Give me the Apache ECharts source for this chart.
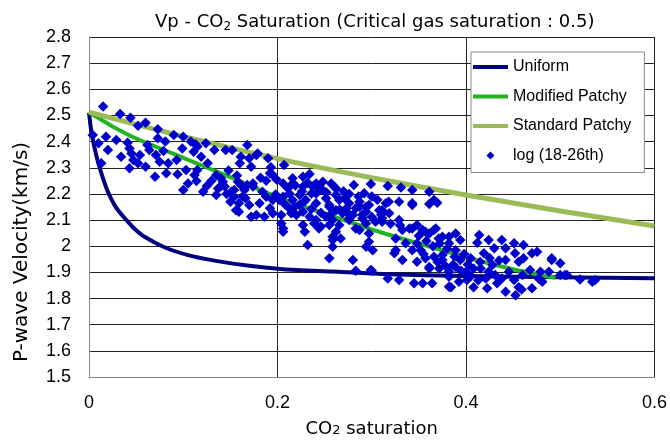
<!DOCTYPE html>
<html><head><meta charset="utf-8">
<script src="https://cdn.jsdelivr.net/npm/echarts@6/dist/echarts.min.js"></script>
<style>html,body{margin:0;padding:0;background:#fff}#c{width:670px;height:443px}</style>
</head><body><div id="c"></div>
<script>
// Uniform saturation curve
const uniformS = [0, 0.0025, 0.006, 0.0095, 0.0148, 0.020, 0.027, 0.0325, 0.038, 0.048, 0.059, 0.080, 0.105, 0.133, 0.170, 0.206, 0.2585, 0.311, 0.345, 0.4, 0.5, 0.6];
const uniformV = [2.510, 2.438, 2.374, 2.323, 2.260, 2.208, 2.158, 2.130, 2.107, 2.068, 2.036, 1.996, 1.966, 1.945, 1.925, 1.912, 1.903, 1.894, 1.890, 1.886, 1.881, 1.878];
// Modified patchy curve
const modS = [0, 0.025, 0.05, 0.1, 0.15, 0.2, 0.25, 0.3, 0.35, 0.4, 0.45, 0.495];
const modV = [2.512, 2.458, 2.412, 2.338, 2.264, 2.188, 2.125, 2.064, 2.010, 1.958, 1.912, 1.879];
// Standard patchy curve
const stdS = [0, 0.1, 0.2, 0.3, 0.4, 0.5, 0.6];
const stdV = [2.513, 2.42, 2.335, 2.262, 2.196, 2.135, 2.077];
// Well log points (18-26th)
const logS = [0.015,0.033,0.044,0.052,0.060,0.073,0.004,0.010,0.018,0.029,0.020,0.013,0.034,0.041,0.043,0.045,0.054,0.047,0.052,0.043,0.060,0.062,0.064,0.071,0.073,0.081,0.079,0.075,0.084,0.082,0.070,0.090,0.100,0.099,0.093,0.094,0.103,0.108,0.113,0.115,0.111,0.119,0.124,0.126,0.115,0.112,0.114,0.105,0.100,0.121,0.133,0.135,0.142,0.137,0.135,0.145,0.152,0.144,0.151,0.154,0.156,0.159,0.165,0.161,0.168,0.161,0.160,0.170,0.172,0.166,0.140,0.158,0.154,0.168,0.170,0.159,0.172,
0.179,0.190,0.193,0.207,0.195,0.174,0.184,0.206,0.216,0.227,0.234,0.241,0.248,0.257,0.260,0.236,0.281,0.299,0.317,0.331,0.343,0.271,0.287,0.294,0.318,0.329,0.311,0.202,0.223,0.255,
0.1775,0.192,0.262,0.174,0.195,0.206,0.216,0.2235,0.241,0.2515,0.2655,0.276,0.287,0.294,0.1775,0.204,0.227,0.241,0.246,0.269,0.276,0.287,0.297,0.315,0.3185,0.329,0.3325,0.340,0.354,0.361,0.368,0.382,0.389,0.371,0.361,0.366,0.343,0.206,0.232,0.255,0.280,0.299,0.2585,0.2585,0.294,0.301,0.324,0.3325,0.317,0.329,0.345,0.354,0.364,0.382,0.3925,0.361,0.375,0.382,0.389,
0.186,0.195,0.204,0.206,0.2145,0.227,0.229,0.239,0.244,0.255,0.262,0.267,0.2585,0.276,0.283,0.294,0.297,0.283,0.300,0.311,0.3255,0.3255,0.336,
0.343,0.361,0.3695,0.343,0.348,0.357,0.366,0.375,0.394,0.382,0.343,0.352,0.348,0.357,0.366,0.375,0.389,0.394,0.361,0.3715,0.382,0.384,0.405,0.414,0.412,0.424,0.430,0.419,0.438,0.442,0.451,0.461,0.408,0.4155,0.424,0.431,0.408,0.4225,0.433,0.442,0.4525,0.456,0.459,0.4455,0.456,0.461,0.470,0.4755,0.468,0.470,0.479,0.488,0.491,0.500,0.500,0.507,0.481,0.505,0.521,0.534,0.537,0.491,
0.216,0.227,0.237,0.248,0.2125,0.230,0.241,0.255,0.262,0.273,0.280,0.283,0.290,0.304,0.311,0.297,0.308,0.188,0.181,0.192,0.2125,0.220,0.234,0.2515,0.2585,0.2655,
0.386,0.400,0.401,0.421,0.438,0.451,0.460,0.477,0.428,0.442,0.452,
0.182,0.188,0.199,0.211,0.219,0.226,0.232,0.244,0.252,0.262,0.270,0.276,0.286,0.292,0.300,0.306,0.198,0.208,0.218,0.228,0.236,0.246,0.256,0.266,0.274,0.290,0.300,0.310,0.320,0.330,0.146,0.150,0.163,0.140,0.148,0.130,0.125,0.157,0.350,0.358,0.365,0.372,0.380,0.388,0.398,0.348,0.355,0.370,0.378,0.395,0.405,0.413,0.402,0.415,0.425,0.435];
const logV = [2.534,2.506,2.491,2.461,2.472,2.447,2.425,2.394,2.419,2.406,2.368,2.317,2.342,2.396,2.374,2.355,2.349,2.330,2.317,2.298,2.304,2.387,2.368,2.349,2.413,2.400,2.364,2.323,2.317,2.279,2.266,2.425,2.419,2.374,2.330,2.275,2.291,2.400,2.390,2.381,2.361,2.342,2.394,2.317,2.291,2.272,2.249,2.240,2.215,2.208,2.368,2.272,2.247,2.221,2.196,2.368,2.368,2.228,2.208,2.189,2.138,2.164,2.215,2.234,2.387,2.342,2.317,2.336,2.304,2.183,2.260,2.247,2.215,2.234,2.158,2.132,2.113,
2.355,2.336,2.302,2.311,2.272,2.240,2.208,2.240,2.260,2.266,2.276,2.240,2.247,2.240,2.228,2.202,2.234,2.238,2.230,2.225,2.215,2.183,2.170,2.151,2.170,2.170,2.138,2.177,2.158,2.158,
2.349,2.279,2.221,2.228,2.177,2.189,2.177,2.196,2.202,2.183,2.177,2.164,2.151,2.132,2.119,2.119,2.132,2.100,2.075,2.126,2.100,2.062,2.049,2.164,2.126,2.100,2.062,2.068,2.062,2.049,2.068,2.036,2.049,2.030,2.208,2.177,2.164,2.068,2.005,1.954,1.947,1.909,2.036,1.998,1.998,1.985,1.973,1.947,1.877,1.871,1.858,1.858,1.858,1.845,1.864,1.921,1.947,1.883,1.921,
2.113,2.126,2.087,2.055,2.126,2.081,2.055,2.087,2.068,2.081,2.055,2.030,2.024,2.107,2.068,2.087,2.017,1.906,1.906,2.094,2.030,1.985,2.011,
2.158,2.161,2.166,2.068,2.081,2.055,2.062,2.036,2.024,2.011,1.985,1.985,1.941,1.954,1.960,1.966,1.985,1.947,1.915,1.915,1.902,1.843,1.954,2.043,2.013,2.024,1.992,1.973,2.024,1.992,2.011,2.005,1.915,1.915,1.902,1.890,1.843,1.839,1.858,1.826,1.813,1.843,1.835,1.902,1.941,1.954,1.973,1.979,1.909,1.839,1.902,1.902,1.947,1.935,1.890,1.890,1.864,1.890,1.873,1.864,1.871,1.954,
2.240,2.228,2.228,2.215,2.202,2.177,2.164,2.151,2.138,2.145,2.119,2.145,2.107,2.094,2.107,2.158,2.138,2.189,2.164,2.145,2.145,2.119,2.113,2.113,2.100,2.081,
1.928,1.902,1.871,1.877,1.877,1.871,1.890,1.877,1.928,1.947,1.973,
2.262,2.250,2.255,2.222,2.232,2.210,2.243,2.222,2.205,2.196,2.210,2.200,2.190,2.203,2.190,2.178,2.198,2.160,2.150,2.170,2.142,2.128,2.120,2.140,2.130,2.120,2.112,2.120,2.086,2.080,2.200,2.170,2.190,2.230,2.290,2.250,2.230,2.270,2.040,2.020,2.000,2.010,1.990,1.960,1.970,2.010,1.970,1.940,1.925,1.905,1.885,1.870,1.930,1.940,1.955,1.945];
const xTicks = {min: 0, max: 0.6, step: 0.2};
const yTicks = {min: 1.5, max: 2.8, step: 0.1};
const seriesNames = ['Uniform', 'Modified Patchy', 'Standard Patchy', 'log (18-26th)'];
const colors = ['#000080', '#22b422', '#9bbb59', '#0000cc'];

const zip = (a, b) => a.map((v, i) => [v, b[i]]);
const FONT = 'Liberation Sans';
const TFONT = 'DejaVu Sans';
const LINE_ICON = 'path://M0,2L35,2L35,6L0,6Z M0,0L0.01,0 M0,8L0.01,8';
const DIAMOND_ICON = 'path://M0,0L0.01,0 M35,8L35.01,8 M17.5,0L21.5,4L17.5,8L13.5,4Z';
const chart = echarts.init(document.getElementById('c'), null, {renderer: 'canvas'});
chart.setOption({
  animation: false,
  backgroundColor: '#fff',
  textStyle: {fontFamily: FONT, color: '#000'},
  title: {
    text: '{a|Vp - CO}{s|2}{a| Saturation (Critical gas saturation : 0.5)}',
    left: 150, top: 7,
    textStyle: {fontFamily: TFONT, fontWeight: 'normal', rich: {
      a: {fontSize: 18, color: '#000', fontFamily: TFONT, fontWeight: 'normal'},
      s: {fontSize: 12, color: '#000', fontFamily: TFONT, fontWeight: 'normal', padding: [9, 0, 0, 0]}
    }}
  },
  grid: {left: 89, right: 13, top: 37, bottom: 66, containLabel: false},
  legend: {
    orient: 'vertical', left: 471, top: 52,
    padding: [7, 13, 9, 2],
    itemWidth: 35, itemHeight: 8, itemGap: 13.5,
    backgroundColor: '#fff', borderColor: '#888', borderWidth: 1,
    textStyle: {fontFamily: FONT, fontSize: 16, color: '#000'},
    data: [
      {name: seriesNames[0], icon: LINE_ICON, itemStyle: {color: colors[0]}},
      {name: seriesNames[1], icon: LINE_ICON, itemStyle: {color: colors[1]}},
      {name: seriesNames[2], icon: LINE_ICON, itemStyle: {color: colors[2]}},
      {name: seriesNames[3], icon: DIAMOND_ICON, itemStyle: {color: colors[3]}}
    ]
  },
  xAxis: {
    type: 'value', min: xTicks.min, max: xTicks.max, interval: xTicks.step,
    name: '{a|CO}{s|2}{a| saturation}', nameLocation: 'middle', nameGap: 43,
    nameTextStyle: {rich: {
      a: {fontSize: 18, color: '#000', fontFamily: TFONT},
      s: {fontSize: 13, color: '#000', fontFamily: TFONT, padding: [3, 0, 0, 0]}
    }},
    axisLine: {show: true, lineStyle: {color: '#888', width: 1}},
    axisTick: {show: false},
    axisLabel: {fontSize: 18, color: '#000', margin: 17, fontFamily: FONT},
    splitLine: {show: true, lineStyle: {color: '#222', width: 1}}
  },
  yAxis: {
    type: 'value', min: yTicks.min, max: yTicks.max, interval: yTicks.step,
    name: 'P-wave Velocity(km/s)', nameLocation: 'middle', nameGap: 57,
    nameTextStyle: {fontSize: 20, color: '#000', fontFamily: TFONT, padding: [0, 90, 0, 0]},
    axisLine: {show: true, lineStyle: {color: '#888', width: 1}},
    axisTick: {show: false},
    axisLabel: {fontSize: 18, color: '#000', margin: 18, fontFamily: FONT},
    splitLine: {show: true, lineStyle: {color: '#222', width: 1}}
  },
  series: [
    {name: seriesNames[0], type: 'line', data: zip(uniformS, uniformV), showSymbol: false, symbol: 'none',
     smooth: 0.25, lineStyle: {color: colors[0], width: 4, join: 'round'}, itemStyle: {color: colors[0]}, z: 2},
    {name: seriesNames[1], type: 'line', data: zip(modS, modV), showSymbol: false, symbol: 'none',
     smooth: 0.25, lineStyle: {color: colors[1], width: 4, join: 'round'}, itemStyle: {color: colors[1]}, z: 2},
    {name: seriesNames[2], type: 'line', data: zip(stdS, stdV), showSymbol: false, symbol: 'none',
     smooth: 0.3, lineStyle: {color: colors[2], width: 5}, itemStyle: {color: colors[2]}, z: 2},
    {name: seriesNames[3], type: 'scatter', data: zip(logS, logV), symbol: 'diamond', symbolSize: 10.5,
     itemStyle: {color: colors[3], opacity: 1}, z: 3}
  ]
});
</script></body></html>
